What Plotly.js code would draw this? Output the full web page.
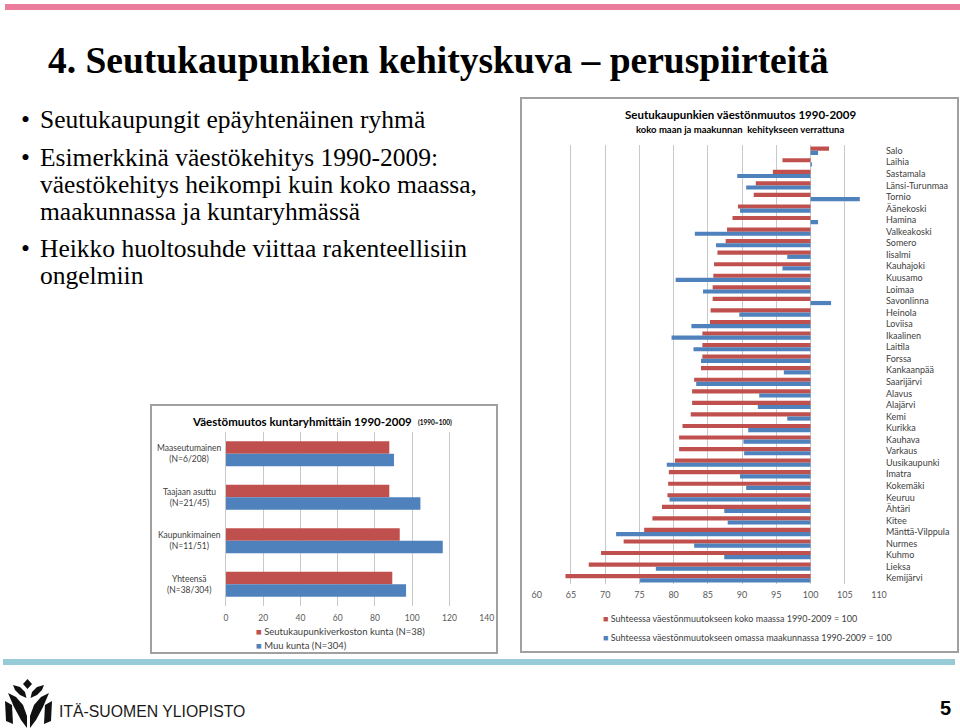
<!DOCTYPE html>
<html>
<head>
<meta charset="utf-8">
<script src="https://cdn.plot.ly/plotly-3.0.1.min.js"></script>
<style>
  html, body { margin: 0; padding: 0; background: #ffffff; }
  #chart { width: 960px; height: 728px; }
</style>
</head>
<body>
<div id="chart"></div>
<script>
// --- Data: municipal groups (left chart, 1990 = 100) ---
const groupLabels = [
  "Maaseutumainen<br>(N=6/208)",
  "Taajaan asuttu<br>(N=21/45)",
  "Kaupunkimainen<br>(N=11/51)",
  "Yhteensä<br>(N=38/304)",
];
const groupNetwork = [87.7, 87.7, 93.3, 89.3];
const groupOther = [90.2, 104.4, 116.4, 96.7];

// --- Data: regional towns (right chart, relative change = 100) ---
const towns = [
  "Salo", "Laihia", "Sastamala", "Länsi-Turunmaa", "Tornio", "Äänekoski",
  "Hamina", "Valkeakoski", "Somero", "Iisalmi", "Kauhajoki", "Kuusamo",
  "Loimaa", "Savonlinna", "Heinola", "Loviisa", "Ikaalinen", "Laitila",
  "Forssa", "Kankaanpää", "Saarijärvi", "Alavus", "Alajärvi", "Kemi",
  "Kurikka", "Kauhava", "Varkaus", "Uusikaupunki", "Imatra", "Kokemäki",
  "Keuruu", "Ähtäri", "Kitee", "Mänttä-Vilppula", "Nurmes", "Kuhmo",
  "Lieksa", "Kemijärvi",
];
const vsCountry = [
  102.7, 95.9, 94.5, 92.0, 91.7, 89.4, 88.6, 87.8, 87.6, 86.4, 85.9, 85.8,
  85.7, 85.7, 85.4, 85.3, 84.2, 84.2, 84.2, 84.0, 83.0, 82.7, 82.7, 82.5,
  81.3, 80.8, 80.8, 80.2, 79.3, 79.2, 79.1, 78.3, 76.9, 75.7, 72.7, 69.4,
  67.6, 64.2,
];
const vsRegion = [
  101.1, 100.2, 89.3, 90.6, 107.2, 89.7, 101.1, 83.1, 86.2, 96.6, 95.9, 80.3,
  84.3, 103.0, 89.6, 82.6, 79.7, 82.9, 84.0, 96.1, 83.3, 92.5, 92.3, 96.6,
  90.9, 90.2, 90.3, 79.0, 89.7, 90.6, 79.4, 87.4, 87.9, 71.6, 83.0, 87.4,
  77.4, 75.1,
];

const bullets = [
  ["•", "Seutukaupungit epäyhtenäinen ryhmä", 120],
  ["•", "Esimerkkinä väestökehitys 1990-2009:", 157],
  ["", "väestökehitys heikompi kuin koko maassa,", 184],
  ["", "maakunnassa ja kuntaryhmässä", 211],
  ["•", "Heikko huoltosuhde viittaa rakenteellisiin", 248],
  ["", "ongelmiin", 275],
];

const RED = "#c0504d";
const BLUE = "#4f81bd";
const W = 960, H = 728;
const px = (x) => x / W;
const py = (y) => 1 - y / H;
const pathOf = (pts) =>
  "M" + pts.map(([x, y]) => `${px(x)},${py(y)}`).join("L") + "Z";
const mirror = (pts) => pts.map(([x, y]) => [57 - x, y]);

// --- Bars ---
const traces = [
  {
    type: "bar", orientation: "h", xaxis: "x", yaxis: "y",
    y: groupLabels, x: groupNetwork,
    width: 0.29, offset: -0.29,
    marker: { color: RED },
    name: "Seutukaupunkiverkoston kunta (N=38)",
  },
  {
    type: "bar", orientation: "h", xaxis: "x", yaxis: "y",
    y: groupLabels, x: groupOther,
    width: 0.29, offset: 0,
    marker: { color: BLUE },
    name: "Muu kunta (N=304)",
  },
  {
    type: "bar", orientation: "h", xaxis: "x2", yaxis: "y2",
    y: towns, x: vsCountry.map((v) => v - 100), base: 100,
    width: 0.36, offset: -0.36,
    marker: { color: RED },
    name: "Suhteessa väestönmuutokseen koko maassa 1990-2009 = 100",
  },
  {
    type: "bar", orientation: "h", xaxis: "x2", yaxis: "y2",
    y: towns, x: vsRegion.map((v) => v - 100), base: 100,
    width: 0.36, offset: 0,
    marker: { color: BLUE },
    name: "Suhteessa väestönmuutokseen omassa maakunnassa 1990-2009 = 100",
  },
];

// --- Text ---
const chartFont = "Lato, 'Liberation Sans', sans-serif";
const serif = "'Liberation Serif', 'DejaVu Serif', serif";
const note = (x, y, text, opts = {}) => ({
  xref: "paper", yref: "paper", x: px(x), y: py(y), text,
  showarrow: false, xanchor: opts.xanchor || "left", yanchor: "middle",
  align: opts.align || "left",
  font: { family: opts.family || chartFont, size: opts.size || 9, color: opts.color || "#000000" },
});

const annotations = [
  note(46, 60, "<b>4. Seutukaupunkien kehityskuva – peruspiirteitä</b>", { family: serif, size: 37.5 }),
  note(740, 114, "<b>Seutukaupunkien väestönmuutos 1990-2009</b>", { xanchor: "center", size: 11.5 }),
  note(740, 129, "<b>koko maan ja maakunnan  kehitykseen verrattuna</b>", { xanchor: "center", size: 9.5 }),
  note(190, 421, "<b>Väestömuutos kuntaryhmittäin 1990-2009</b>", { size: 11.5 }),
  note(416, 422, "<b>(1990=100)</b>", { size: 6.5 }),
  note(601, 618, `<span style="color:${RED}">■</span> ${traces[2].name}`, { color: "#404040" }),
  note(601, 637, `<span style="color:${BLUE}">■</span> ${traces[3].name}`, { color: "#404040" }),
  note(254, 631, `<span style="color:${RED}">■</span> ${traces[0].name}`, { color: "#404040", size: 9.5 }),
  note(254, 645, `<span style="color:${BLUE}">■</span> ${traces[1].name}`, { color: "#404040", size: 9.5 }),
  note(57, 711, "ITÄ-SUOMEN YLIOPISTO", { family: "'Liberation Sans', sans-serif", size: 15.8, color: "#1a1a1a" }),
  note(945, 708, "<b>5</b>", { xanchor: "center", family: "'Liberation Sans', sans-serif", size: 20 }),
];
bullets.forEach(([mark, text, y]) => {
  if (mark) annotations.push(note(19, y, mark, { family: serif, size: 25.5 }));
  annotations.push(note(38, y, text, { family: serif, size: 25.5 }));
});
groupLabels.forEach((label) => {
  annotations.push({
    xref: "paper", yref: "y", x: px(189), y: label, text: label,
    showarrow: false, xanchor: "center", yanchor: "middle", align: "center",
    font: { family: chartFont, size: 8.5, color: "#404040" },
  });
});

// --- Slide decoration ---
const logoParts = [
  [[27.5, 679], [32, 684], [27.5, 689], [23, 684]],
  [[13, 685], [20, 687], [25, 692], [26.5, 698], [20, 695], [15, 690]],
  [[8, 693], [16, 697], [23, 705], [27, 716], [27, 728], [21, 720], [14, 707]],
  [[5, 701], [12, 705], [13, 724], [6, 721]],
];
const logoShapes = [...logoParts, ...logoParts.slice(1).map(mirror)].map((pts) => ({
  type: "path", xref: "paper", yref: "paper", fillcolor: "#111111",
  line: { width: 0 }, path: pathOf(pts),
}));

const shapes = [
  { type: "rect", xref: "paper", yref: "paper", x0: px(5), x1: px(960), y0: py(4), y1: py(10),
    fillcolor: "#ec7c9c", line: { width: 0 } },
  { type: "rect", xref: "paper", yref: "paper", x0: px(3), x1: px(955), y0: py(659), y1: py(665),
    fillcolor: "#96cbd7", line: { width: 0 } },
  { type: "rect", xref: "paper", yref: "paper", x0: px(521), x1: px(958), y0: py(98), y1: py(652),
    line: { color: "#a0a0a0", width: 2 } },
  { type: "rect", xref: "paper", yref: "paper", x0: px(151), x1: px(497), y0: py(405), y1: py(653),
    line: { color: "#a0a0a0", width: 2 } },
  ...logoShapes,
];

const axisFont = { family: chartFont, size: 9, color: "#595959" };

const layout = {
  width: W,
  height: H,
  margin: { l: 0, r: 0, t: 0, b: 0 },
  paper_bgcolor: "#ffffff",
  plot_bgcolor: "rgba(0,0,0,0)",
  barmode: "overlay",
  showlegend: false,
  xaxis: {
    domain: [px(226), px(486.7)], anchor: "y",
    range: [0, 140], tick0: 0, dtick: 20,
    showgrid: true, gridcolor: "#c8c8c8", zeroline: false,
    ticks: "", tickfont: { ...axisFont, size: 8.5 }, ticklabelstandoff: 5,
  },
  yaxis: {
    domain: [py(606), py(432)], anchor: "x",
    type: "category", autorange: "reversed",
    showticklabels: false, showgrid: false,
    showline: true, linecolor: "#c8c8c8", linewidth: 1,
  },
  xaxis2: {
    domain: [px(536.7), px(879)], anchor: "y2",
    range: [60, 110], tick0: 60, dtick: 5,
    showgrid: true, gridcolor: "#c8c8c8", zeroline: false,
    ticks: "", tickfont: axisFont, ticklabelstandoff: 4,
  },
  yaxis2: {
    domain: [py(584), py(145)], anchor: "x2", side: "right",
    type: "category", autorange: "reversed",
    showgrid: false, ticks: "", ticklabelstandoff: 6,
    tickfont: { family: chartFont, size: 9, color: "#404040" },
  },
  annotations,
  shapes,
};

Plotly.newPlot("chart", traces, layout, { staticPlot: true, displayModeBar: false });
</script>
</body>
</html>
